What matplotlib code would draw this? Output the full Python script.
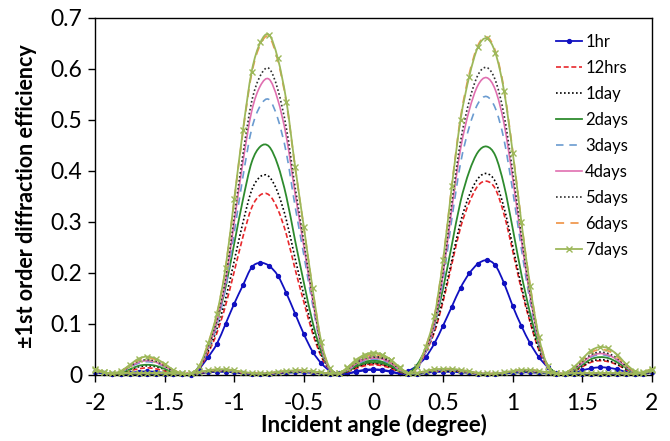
import numpy as np
import matplotlib
matplotlib.use("Agg")
import matplotlib.pyplot as plt
from matplotlib.path import Path
from matplotlib.patches import PathPatch
from matplotlib.lines import Line2D
from matplotlib.ticker import MultipleLocator, FuncFormatter

plt.rcParams['font.family'] = ['Lato', 'DejaVu Sans']
plt.rcParams['axes.unicode_minus'] = False

# incident angle grid (degree), step 1/16
angle = np.linspace(-2, 2, 65)

# each series was measured twice: -1st order pass (peak near -0.8) and +1st order pass (peak near +0.8)
hr1_minus = [0.005, 0.003,
             0.001, 0.002, 0.004, 0.006, 0.007, 0.006, 0.004, 0.002, 0.001,
             0.000, 0.013, 0.035, 0.061, 0.100, 0.140, 0.176, 0.211, 0.220, 0.214, 0.195, 0.160, 0.120, 0.080, 0.046, 0.023, 0.008, 0.002,
             0.003, 0.007, 0.010, 0.011, 0.010, 0.007, 0.003,
             0.002, 0.002, 0.004, 0.006, 0.006, 0.006, 0.005, 0.004, 0.002, 0.002, 0.002, 0.003, 0.004, 0.005, 0.005,
             0.004, 0.003, 0.002, 0.002, 0.002, 0.002, 0.002, 0.002, 0.002, 0.002, 0.002, 0.002, 0.003, 0.006]
hr1_plus = [0.006, 0.003, 0.002, 0.002, 0.002, 0.002, 0.002, 0.002, 0.002, 0.002, 0.002, 0.002, 0.003, 0.005,
            0.006, 0.006, 0.005, 0.003, 0.002, 0.002, 0.002, 0.003, 0.004, 0.005, 0.005, 0.004, 0.003, 0.002,
            0.003,
            0.003, 0.006, 0.009, 0.010, 0.009, 0.006, 0.003,
            0.008, 0.018, 0.035, 0.062, 0.097, 0.134, 0.171, 0.199, 0.218, 0.225, 0.215, 0.180, 0.135, 0.096, 0.062, 0.035, 0.016, 0.004,
            0.001, 0.004, 0.009, 0.013, 0.015, 0.014, 0.011, 0.006, 0.002,
            0.002, 0.005]

hrs12_minus = [0.007, 0.004,
               0.001, 0.003, 0.008, 0.012, 0.014, 0.012, 0.008, 0.004, 0.001,
               0.001, 0.014, 0.043, 0.082, 0.136, 0.203, 0.271, 0.328, 0.353, 0.353, 0.325, 0.275, 0.207, 0.143, 0.082, 0.036, 0.010, 0.003,
               0.007, 0.015, 0.020, 0.022, 0.020, 0.015, 0.007,
               0.003, 0.003, 0.006, 0.008, 0.008, 0.008, 0.007, 0.005, 0.003, 0.002, 0.002, 0.004, 0.006, 0.007, 0.007,
               0.006, 0.004, 0.002, 0.002, 0.003, 0.003, 0.003, 0.003, 0.003, 0.003, 0.002, 0.002, 0.004, 0.008]
hrs12_plus = [0.008, 0.004, 0.002, 0.003, 0.003, 0.003, 0.003, 0.003, 0.003, 0.002, 0.002, 0.002, 0.004, 0.006,
              0.008, 0.008, 0.006, 0.004, 0.003, 0.002, 0.003, 0.004, 0.006, 0.006, 0.006, 0.005, 0.004, 0.002,
              0.003,
              0.006, 0.013, 0.018, 0.020, 0.018, 0.013, 0.006,
              0.004, 0.017, 0.044, 0.084, 0.144, 0.217, 0.289, 0.338, 0.371, 0.380, 0.365, 0.315, 0.243, 0.167, 0.103, 0.049, 0.017, 0.004,
              0.002, 0.007, 0.016, 0.025, 0.028, 0.026, 0.020, 0.011, 0.003,
              0.003, 0.007]

day1_minus = [0.007, 0.004,
              0.001, 0.004, 0.010, 0.016, 0.018, 0.016, 0.011, 0.005, 0.001,
              0.001, 0.016, 0.047, 0.090, 0.149, 0.224, 0.299, 0.362, 0.389, 0.389, 0.358, 0.303, 0.228, 0.157, 0.090, 0.039, 0.011, 0.003,
              0.008, 0.017, 0.023, 0.025, 0.023, 0.017, 0.008,
              0.003, 0.003, 0.006, 0.008, 0.008, 0.008, 0.007, 0.005, 0.003, 0.002, 0.002, 0.004, 0.006, 0.007, 0.007,
              0.006, 0.004, 0.002, 0.002, 0.003, 0.003, 0.003, 0.003, 0.003, 0.003, 0.002, 0.002, 0.004, 0.008]
day1_plus = [0.008, 0.004, 0.002, 0.003, 0.003, 0.003, 0.003, 0.003, 0.003, 0.002, 0.002, 0.002, 0.004, 0.006,
             0.008, 0.008, 0.006, 0.004, 0.003, 0.002, 0.003, 0.004, 0.006, 0.006, 0.006, 0.005, 0.004, 0.002,
             0.003,
             0.007, 0.015, 0.021, 0.023, 0.021, 0.015, 0.007,
             0.004, 0.018, 0.045, 0.087, 0.150, 0.225, 0.300, 0.352, 0.385, 0.395, 0.379, 0.328, 0.253, 0.174, 0.107, 0.051, 0.018, 0.004,
             0.002, 0.008, 0.017, 0.027, 0.030, 0.028, 0.021, 0.012, 0.004,
             0.003, 0.007]

days2_minus = [0.008, 0.004,
               0.002, 0.005, 0.011, 0.018, 0.020, 0.018, 0.012, 0.005, 0.002,
               0.001, 0.018, 0.054, 0.104, 0.172, 0.258, 0.344, 0.417, 0.448, 0.448, 0.412, 0.349, 0.263, 0.181, 0.104, 0.045, 0.012, 0.003,
               0.009, 0.019, 0.026, 0.028, 0.026, 0.019, 0.009,
               0.003, 0.003, 0.006, 0.009, 0.010, 0.010, 0.008, 0.006, 0.003, 0.002, 0.002, 0.004, 0.006, 0.008, 0.008,
               0.006, 0.004, 0.002, 0.002, 0.003, 0.003, 0.003, 0.003, 0.003, 0.003, 0.002, 0.002, 0.005, 0.010]
days2_plus = [0.010, 0.005, 0.002, 0.003, 0.003, 0.003, 0.003, 0.003, 0.003, 0.002, 0.002, 0.002, 0.005, 0.007,
              0.009, 0.009, 0.007, 0.005, 0.003, 0.002, 0.003, 0.005, 0.006, 0.007, 0.007, 0.006, 0.004, 0.002,
              0.003,
              0.008, 0.017, 0.023, 0.025, 0.023, 0.017, 0.008,
              0.004, 0.020, 0.052, 0.099, 0.170, 0.255, 0.340, 0.399, 0.437, 0.448, 0.430, 0.372, 0.287, 0.197, 0.121, 0.058, 0.020, 0.004,
              0.003, 0.009, 0.020, 0.031, 0.035, 0.033, 0.025, 0.014, 0.004,
              0.003, 0.008]

days3_minus = [0.008, 0.004,
               0.002, 0.006, 0.015, 0.023, 0.026, 0.023, 0.016, 0.007, 0.002,
               0.003, 0.015, 0.050, 0.097, 0.170, 0.279, 0.389, 0.482, 0.528, 0.540, 0.503, 0.434, 0.330, 0.235, 0.138, 0.052, 0.010, 0.003,
               0.011, 0.023, 0.030, 0.033, 0.030, 0.023, 0.011,
               0.003, 0.003, 0.006, 0.009, 0.010, 0.010, 0.008, 0.006, 0.003, 0.002, 0.002, 0.004, 0.006, 0.008, 0.008,
               0.006, 0.004, 0.002, 0.002, 0.003, 0.003, 0.003, 0.003, 0.003, 0.003, 0.002, 0.002, 0.005, 0.010]
days3_plus = [0.010, 0.005, 0.002, 0.003, 0.003, 0.003, 0.003, 0.003, 0.003, 0.002, 0.002, 0.002, 0.005, 0.007,
              0.009, 0.009, 0.007, 0.005, 0.003, 0.002, 0.003, 0.005, 0.006, 0.007, 0.007, 0.006, 0.004, 0.002,
              0.003,
              0.009, 0.020, 0.028, 0.031, 0.029, 0.021, 0.010,
              0.003, 0.013, 0.045, 0.094, 0.185, 0.306, 0.415, 0.486, 0.532, 0.546, 0.523, 0.461, 0.361, 0.247, 0.144, 0.062, 0.015, 0.003,
              0.003, 0.011, 0.023, 0.035, 0.040, 0.037, 0.029, 0.016, 0.005,
              0.003, 0.008]

days4_minus = [0.009, 0.005,
               0.002, 0.007, 0.016, 0.025, 0.028, 0.025, 0.017, 0.008, 0.002,
               0.003, 0.016, 0.054, 0.104, 0.183, 0.300, 0.418, 0.517, 0.567, 0.580, 0.540, 0.466, 0.355, 0.252, 0.148, 0.056, 0.011, 0.003,
               0.012, 0.025, 0.033, 0.036, 0.033, 0.025, 0.012,
               0.004, 0.004, 0.007, 0.010, 0.011, 0.011, 0.009, 0.006, 0.004, 0.003, 0.003, 0.005, 0.007, 0.009, 0.009,
               0.007, 0.005, 0.003, 0.003, 0.004, 0.004, 0.004, 0.004, 0.004, 0.004, 0.003, 0.003, 0.005, 0.011]
days4_plus = [0.011, 0.005, 0.003, 0.004, 0.004, 0.004, 0.004, 0.004, 0.004, 0.003, 0.003, 0.003, 0.005, 0.008,
              0.010, 0.010, 0.008, 0.005, 0.004, 0.003, 0.004, 0.005, 0.007, 0.008, 0.008, 0.006, 0.005, 0.003,
              0.004,
              0.010, 0.022, 0.030, 0.033, 0.031, 0.023, 0.011,
              0.003, 0.013, 0.048, 0.101, 0.198, 0.326, 0.443, 0.519, 0.568, 0.583, 0.559, 0.493, 0.385, 0.264, 0.154, 0.066, 0.016, 0.003,
              0.003, 0.011, 0.024, 0.037, 0.042, 0.039, 0.030, 0.017, 0.006,
              0.004, 0.009]

days5_minus = [0.009, 0.005,
               0.003, 0.007, 0.017, 0.027, 0.030, 0.027, 0.018, 0.008, 0.003,
               0.003, 0.016, 0.056, 0.108, 0.189, 0.311, 0.433, 0.536, 0.587, 0.601, 0.560, 0.483, 0.368, 0.261, 0.153, 0.058, 0.011, 0.003,
               0.013, 0.027, 0.035, 0.038, 0.035, 0.027, 0.013,
               0.004, 0.004, 0.007, 0.010, 0.011, 0.011, 0.009, 0.006, 0.004, 0.003, 0.003, 0.005, 0.007, 0.009, 0.009,
               0.007, 0.005, 0.003, 0.003, 0.004, 0.004, 0.004, 0.004, 0.004, 0.004, 0.003, 0.003, 0.005, 0.011]
days5_plus = [0.011, 0.005, 0.003, 0.004, 0.004, 0.004, 0.004, 0.004, 0.004, 0.003, 0.003, 0.003, 0.005, 0.008,
              0.010, 0.010, 0.008, 0.005, 0.004, 0.003, 0.004, 0.005, 0.007, 0.008, 0.008, 0.006, 0.005, 0.003,
              0.004,
              0.011, 0.024, 0.032, 0.035, 0.033, 0.025, 0.012,
              0.003, 0.014, 0.050, 0.104, 0.204, 0.338, 0.458, 0.537, 0.588, 0.603, 0.578, 0.510, 0.399, 0.273, 0.159, 0.068, 0.016, 0.003,
              0.003, 0.012, 0.026, 0.040, 0.045, 0.042, 0.033, 0.018, 0.006,
              0.004, 0.009]

days6_minus = [0.010, 0.005,
               0.003, 0.008, 0.019, 0.030, 0.034, 0.030, 0.021, 0.010, 0.003,
               0.003, 0.018, 0.062, 0.119, 0.209, 0.343, 0.477, 0.591, 0.648, 0.663, 0.617, 0.533, 0.406, 0.288, 0.169, 0.064, 0.013, 0.003,
               0.014, 0.029, 0.039, 0.042, 0.039, 0.029, 0.014,
               0.004, 0.004, 0.008, 0.011, 0.012, 0.012, 0.010, 0.007, 0.004, 0.003, 0.003, 0.005, 0.008, 0.010, 0.010,
               0.008, 0.005, 0.003, 0.003, 0.004, 0.004, 0.004, 0.004, 0.004, 0.004, 0.003, 0.003, 0.006, 0.012]
days6_plus = [0.012, 0.006, 0.003, 0.004, 0.004, 0.004, 0.004, 0.004, 0.004, 0.003, 0.003, 0.003, 0.006, 0.009,
              0.011, 0.011, 0.009, 0.006, 0.004, 0.003, 0.004, 0.006, 0.008, 0.009, 0.009, 0.007, 0.005, 0.003,
              0.004,
              0.012, 0.027, 0.036, 0.040, 0.037, 0.028, 0.013,
              0.003, 0.015, 0.055, 0.115, 0.225, 0.371, 0.504, 0.590, 0.646, 0.663, 0.635, 0.560, 0.438, 0.300, 0.175, 0.075, 0.018, 0.003,
              0.004, 0.014, 0.029, 0.044, 0.050, 0.047, 0.036, 0.020, 0.007,
              0.004, 0.010]

days7_minus = [0.010, 0.005,
               0.003, 0.008, 0.020, 0.032, 0.036, 0.032, 0.022, 0.010, 0.003,
               0.003, 0.018, 0.062, 0.120, 0.210, 0.345, 0.480, 0.595, 0.652, 0.667, 0.621, 0.536, 0.408, 0.290, 0.170, 0.065, 0.013, 0.003,
               0.015, 0.030, 0.040, 0.044, 0.040, 0.030, 0.015,
               0.004, 0.004, 0.008, 0.011, 0.012, 0.012, 0.010, 0.007, 0.004, 0.003, 0.003, 0.005, 0.008, 0.010, 0.010,
               0.008, 0.005, 0.003, 0.003, 0.004, 0.004, 0.004, 0.004, 0.004, 0.004, 0.003, 0.003, 0.006, 0.012]
days7_plus = [0.012, 0.006, 0.003, 0.004, 0.004, 0.004, 0.004, 0.004, 0.004, 0.003, 0.003, 0.003, 0.006, 0.009,
              0.011, 0.011, 0.009, 0.006, 0.004, 0.003, 0.004, 0.006, 0.008, 0.009, 0.009, 0.007, 0.005, 0.003,
              0.004,
              0.013, 0.028, 0.038, 0.042, 0.039, 0.029, 0.014,
              0.003, 0.015, 0.055, 0.115, 0.225, 0.370, 0.500, 0.585, 0.643, 0.660, 0.632, 0.557, 0.436, 0.299, 0.174, 0.075, 0.018, 0.003,
              0.004, 0.015, 0.032, 0.048, 0.055, 0.052, 0.040, 0.022, 0.008,
              0.004, 0.010]

labels = ['1hr', '12hrs', '1day', '2days', '3days', '4days', '5days', '6days', '7days']
minus_runs = [hr1_minus, hrs12_minus, day1_minus, days2_minus, days3_minus,
              days4_minus, days5_minus, days6_minus, days7_minus]
plus_runs = [hr1_plus, hrs12_plus, day1_plus, days2_plus, days3_plus,
             days4_plus, days5_plus, days6_plus, days7_plus]

styles = [
    dict(color='#1010C0', ls='-', lw=1.3, marker='o', ms=2.8),
    dict(color='#E8282C', ls=(0, (3, 1.6)), lw=1.2),
    dict(color='#000000', ls=(0, (1, 1.4)), lw=1.2),
    dict(color='#2E8B2E', ls='-', lw=1.3),
    dict(color='#6A9BD0', ls=(0, (4.5, 3.5)), lw=1.2),
    dict(color='#E06FB0', ls='-', lw=1.2),
    dict(color='#303030', ls=(0, (1, 1.4)), lw=1.2),
    dict(color='#F09A50', ls=(0, (4.5, 3.5)), lw=1.3),
    dict(color='#9DB85A', ls='-', lw=1.3, marker='x', ms=4, mew=1),
]


def smooth_path(xs, ys):
    # excel-style smoothed line: catmull-rom through the points, as cubic beziers
    pts = np.column_stack([xs, ys])
    pad = np.vstack([pts[0], pts, pts[-1]])
    verts = [pts[0]]
    codes = [Path.MOVETO]
    for i in range(len(pts) - 1):
        p0, p1, p2, p3 = pad[i], pad[i + 1], pad[i + 2], pad[i + 3]
        verts += [p1 + (p2 - p0) / 6, p2 - (p3 - p1) / 6, p2]
        codes += [Path.CURVE4] * 3
    return Path(verts, codes)


fig = plt.figure(figsize=(6.7, 4.41), dpi=100)
ax = fig.add_axes([0.1418, 0.1497, 0.8313, 0.8095])

handles = []
for k, (lab, m_run, p_run, st) in enumerate(zip(labels, minus_runs, plus_runs, styles)):
    z = 2 + k * 0.1
    for run in (m_run, p_run):
        ax.add_patch(PathPatch(smooth_path(angle, run), fill=False, edgecolor=st['color'],
                               lw=st['lw'], linestyle=st['ls'], capstyle='butt',
                               clip_on=False, zorder=z))
        if 'marker' in st:
            ax.plot(angle, run, ls='none', marker=st['marker'], ms=st['ms'],
                    mew=st.get('mew', 1), color=st['color'], clip_on=False, zorder=z + 0.05)
    handles.append(Line2D([], [], label=lab, **st))

ax.set_xlim(-2, 2)
ax.set_ylim(0, 0.7)
ax.xaxis.set_major_locator(MultipleLocator(0.5))
ax.yaxis.set_major_locator(MultipleLocator(0.1))
fmt = FuncFormatter(lambda v, p: '%g' % round(v, 2))
ax.xaxis.set_major_formatter(fmt)
ax.yaxis.set_major_formatter(fmt)
ax.tick_params(direction='out', length=5, width=1, labelsize=16.5, pad=4)
ax.tick_params(axis='x', pad=8)
for sp in ax.spines.values():
    sp.set_linewidth(1)

ax.set_xlabel('Incident angle (degree)', fontsize=16, fontweight='bold', labelpad=0)
ax.set_ylabel('±1st order diffraction efficiency', fontsize=15.5, fontweight='bold', labelpad=10)

ax.legend(handles=handles, loc='upper left', bbox_to_anchor=(0.828, 0.955), frameon=False,
          fontsize=12, handlelength=1.56, handletextpad=0.18, labelspacing=0.6,
          borderpad=0, borderaxespad=0)

fig.savefig('out.png', dpi=100)
